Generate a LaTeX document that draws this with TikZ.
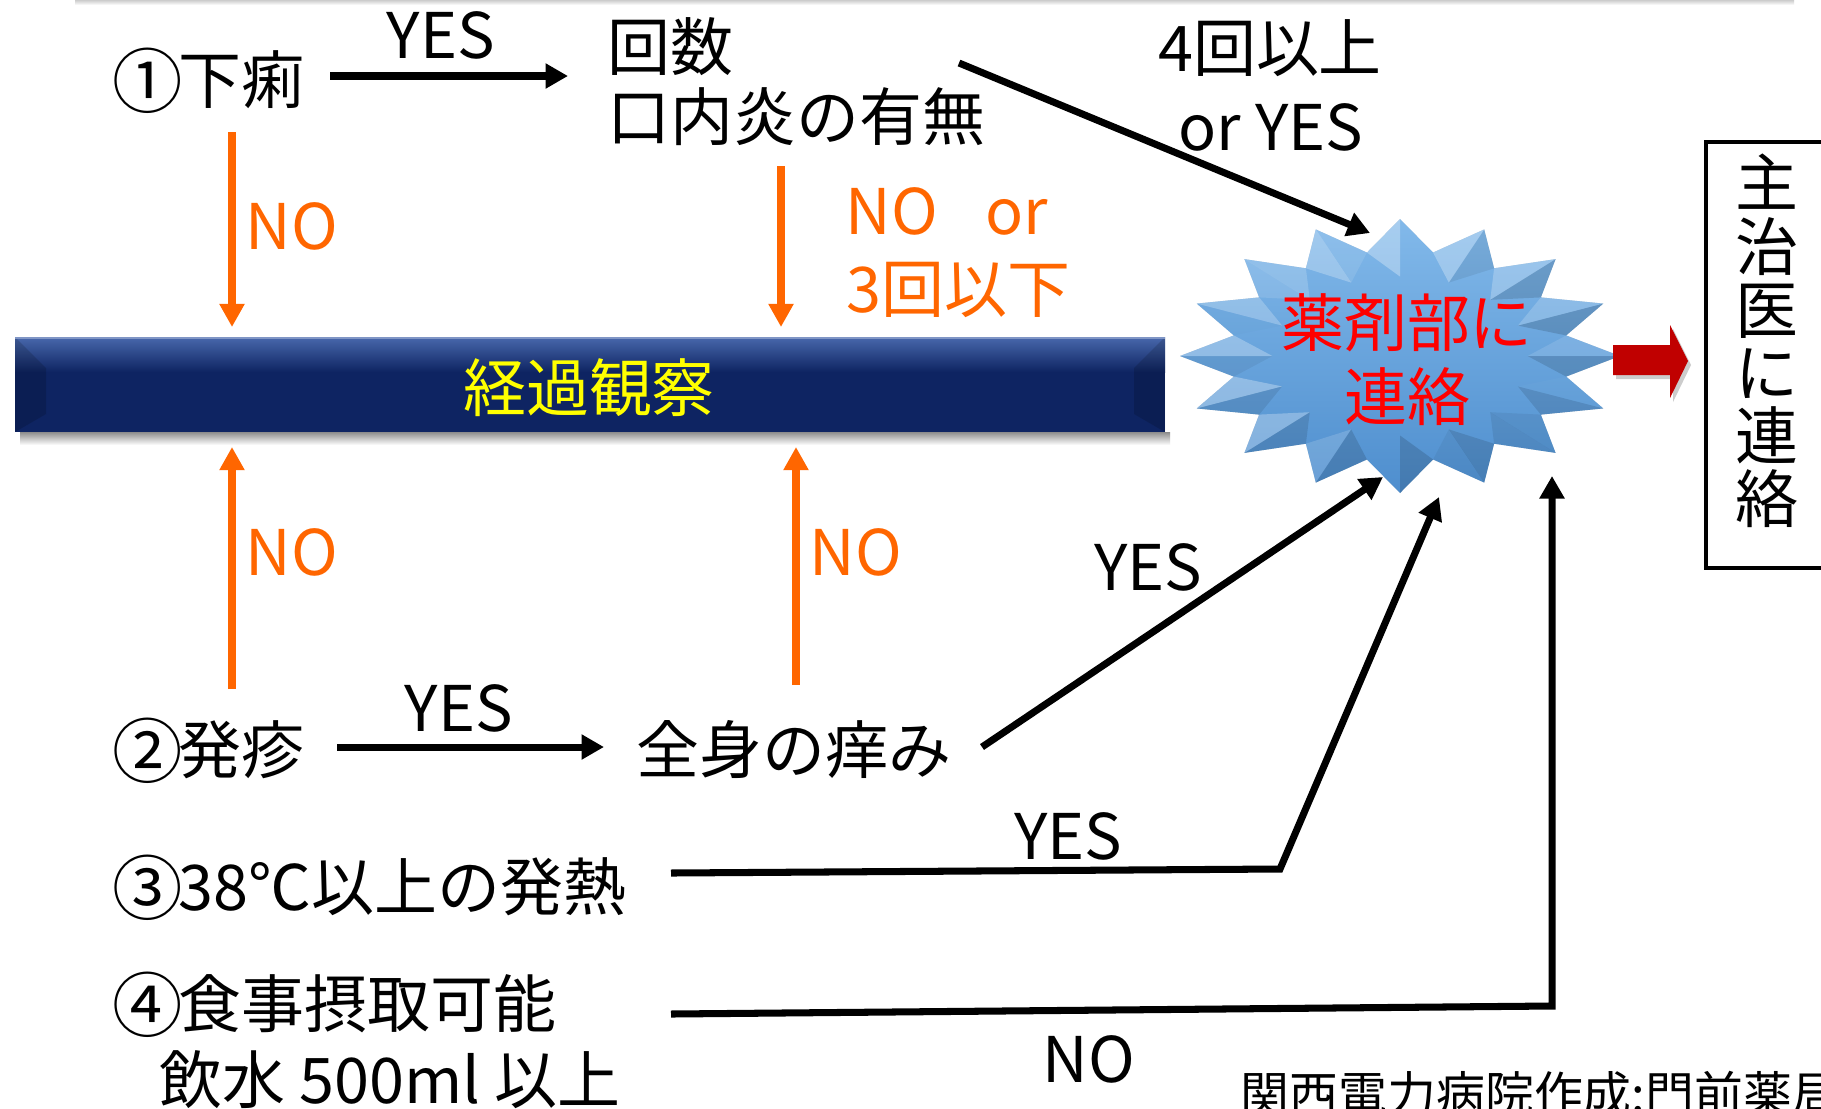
\documentclass[tikz,border=0pt]{standalone}
\usepackage{fontspec}
\setmainfont{Noto Sans CJK JP}
\usetikzlibrary{arrows.meta}
\definecolor{orng}{RGB}{255,102,0}
\definecolor{navy}{RGB}{14,36,98}
\definecolor{navylt}{RGB}{72,104,172}
\definecolor{starlt}{RGB}{130,185,234}
\definecolor{stardk}{RGB}{78,142,206}
\definecolor{dred}{RGB}{192,0,0}
\definecolor{ylw}{RGB}{255,255,0}
\newcommand\circnum[1]{\makebox[1em][c]{\raisebox{-0.06em}{\fontsize{20}{20}\selectfont #1}}}
\begin{document}
\begin{tikzpicture}[x=0.01cm,y=-0.01cm,
  txt/.style={inner sep=0pt, text height=15.75pt, text depth=2.15pt, font=\fontsize{17.9}{21.5}\selectfont},
  otxt/.style={txt, text=orng},
  blk/.style={line width=2pt, -{Triangle[length=6.4pt,width=6.8pt]}},
  org/.style={line width=2pt, draw=orng, -{Triangle[length=6.6pt,width=6.8pt]}},
]
\useasboundingbox (0,0) rectangle (1821,1108);
\fill[white] (0,0) rectangle (1821,1108);
% faint top shadow
\shade[top color=black!20, bottom color=white] (75,0) rectangle (1794,5);

% ---------- observation bar ----------
\shade[top color=black!45, bottom color=white] (20,432) rectangle (1170,445);
\fill[navy] (15,337) rectangle (1165,432);
\shade[top color=navylt, bottom color=navy] (15,337) rectangle (1165,372);
\fill[black, fill opacity=0.15] (15,337) -- (46,368) -- (46,414) -- (15,432) -- cycle;
\fill[black, fill opacity=0.15] (1165,337) -- (1134,368) -- (1134,414) -- (1165,432) -- cycle;
\draw[navylt!70!white, line width=0.7pt] (15,338) -- (1165,338);
\node[txt, text=ylw] (obs) at (589,388) {経過観察};

% ---------- starburst ----------
\foreach \i in {0,...,31}{
  \pgfmathsetmacro\rf{mod(\i,2)==0 ? 1 : 0.77}
  \pgfmathsetmacro\sx{1400+220*\rf*cos(90+\i*11.25)}
  \pgfmathsetmacro\sy{356-137*\rf*sin(90+\i*11.25)}
  \coordinate (S\i) at (\sx,\sy);
}
\fill[black, fill opacity=0.15, shift={(4,6)}] (S0) \foreach \i in {1,...,31}{ -- (S\i)} -- cycle;
\shade[top color=starlt, bottom color=stardk] (S0) \foreach \i in {1,...,31}{ -- (S\i)} -- cycle;
\begin{scope}[shift={(1400,356)}, yscale=-1]
\foreach \k in {0,...,15}{
  \pgfmathsetmacro\a{90+\k*22.5}
  \pgfmathsetmacro\Ox{220*cos(\a)}
  \pgfmathsetmacro\Oy{137*sin(\a)}
  \pgfmathsetmacro\Ax{0.77*220*cos(\a-11.25)}
  \pgfmathsetmacro\Ay{0.77*137*sin(\a-11.25)}
  \pgfmathsetmacro\Bx{0.77*220*cos(\a+11.25)}
  \pgfmathsetmacro\By{0.77*137*sin(\a+11.25)}
  \pgfmathsetmacro\Rx{0.58*220*cos(\a)}
  \pgfmathsetmacro\Ry{0.58*137*sin(\a)}
  \pgfmathsetmacro\ba{(-(\Oy-\Ay)-(\Ox-\Ax))/(1.4142*veclen(\Ox-\Ax,\Oy-\Ay))}
  \pgfmathsetmacro\bb{(-(\By-\Oy)-(\Bx-\Ox))/(1.4142*veclen(\Bx-\Ox,\By-\Oy))}
  \pgfmathsetmacro\wa{max(\ba,0)*0.3}
  \pgfmathsetmacro\ka{max(-\ba,0)*0.14}
  \pgfmathsetmacro\wb{max(\bb,0)*0.3}
  \pgfmathsetmacro\kb{max(-\bb,0)*0.14}
  \fill[white, fill opacity=\wa] (\Ax,\Ay) -- (\Ox,\Oy) -- (\Rx,\Ry) -- cycle;
  \fill[black, fill opacity=\ka] (\Ax,\Ay) -- (\Ox,\Oy) -- (\Rx,\Ry) -- cycle;
  \fill[white, fill opacity=\wb] (\Ox,\Oy) -- (\Bx,\By) -- (\Rx,\Ry) -- cycle;
  \fill[black, fill opacity=\kb] (\Ox,\Oy) -- (\Bx,\By) -- (\Rx,\Ry) -- cycle;
}
\end{scope}
\node[inner sep=0pt, align=center, text=red, font=\fontsize{17.9}{21.05}\selectfont] (star) at (1407,360) {薬剤部に\\連絡};

% ---------- red block arrow ----------
\fill[black, fill opacity=0.2, shift={(3,4)}] (1613,345) -- (1670,345) -- (1670,325) -- (1688,361) -- (1670,398) -- (1670,375) -- (1613,375) -- cycle;
\fill[dred] (1613,345) -- (1670,345) -- (1670,325) -- (1688,361) -- (1670,398) -- (1670,375) -- (1613,375) -- cycle;

% ---------- right box ----------
\draw[line width=1.15pt] (1845,142) -- (1706,142) -- (1706,568) -- (1845,568);
\node[inner sep=0pt, align=center, font=\fontsize{17.9}{17.95}\selectfont] (doc) at (1767,341) {主\\治\\医\\に\\連\\絡};

% ---------- text nodes ----------
\node[txt, anchor=west] (d1) at (115,80) {\circnum{①}下痢};
\node[txt] (yes1) at (441,35) {YES};
\node[txt, anchor=west] (cnt1) at (607,47) {回数};
\node[txt, anchor=west] (cnt2) at (607,117) {口内炎の有無};
\node[txt] (ge4) at (1270,48) {4回以上};
\node[txt] (oryes) at (1271,127) {or YES};
\node[otxt, anchor=west] (no1) at (245,226) {NO};
\node[otxt, anchor=west] (no2) at (845,211) {NO\hspace{0.75em}or};
\node[otxt, anchor=west] (le3) at (846,289) {3回以下};
\node[otxt, anchor=west] (no3) at (245,552) {NO};
\node[otxt, anchor=west] (no4) at (809,552) {NO};
\node[txt, anchor=west] (d2) at (115,750) {\circnum{②}発疹};
\node[txt] (yes2) at (459,708) {YES};
\node[txt, anchor=west] (itch) at (636,750) {全身の痒み};
\node[txt] (yes3) at (1148,567) {YES};
\node[txt, anchor=west] (d3) at (115,887) {\circnum{③}38℃以上の発熱};
\node[txt] (yes4) at (1068,836) {YES};
\node[txt, anchor=west] (d4) at (115,1004) {\circnum{④}食事摂取可能};
\node[txt, anchor=west] (d4b) at (159,1080) {飲水 500ml 以上};
\node[txt] (no5) at (1089,1059) {NO};
\node[inner sep=0pt, anchor=west, text height=12.2pt, text depth=1.7pt, font=\fontsize{13.9}{15}\selectfont] (credit) at (1240,1094) {関西電力病院作成:門前薬局};

% ---------- connector end points ----------
\coordinate (a1s) at (330,76);   \coordinate (a1e) at (568,76);
\coordinate (a2s) at (959,63);   \coordinate (a2e) at (1370,233);
\coordinate (o1s) at (232,132);  \coordinate (o1e) at (232,327);
\coordinate (o2s) at (781,166);  \coordinate (o2e) at (781,327);
\coordinate (o3s) at (232,689);  \coordinate (o3e) at (232,447);
\coordinate (o4s) at (796,685);  \coordinate (o4e) at (796,447);
\coordinate (b1s) at (337,747);  \coordinate (b1e) at (604,747);
\coordinate (b2s) at (982,747);  \coordinate (b2e) at (1383,477);
\coordinate (c3s) at (671,873);  \coordinate (c3m) at (1280,869); \coordinate (c3e) at (1439,497);
\coordinate (c4s) at (671,1014); \coordinate (c4m) at (1552,1006); \coordinate (c4e) at (1552,476);

% ---------- connectors ----------
\draw[blk] (a1s) -- (a1e);
\draw[blk] (a2s) -- (a2e);
\draw[org] (o1s) -- (o1e);
\draw[org] (o2s) -- (o2e);
\draw[org] (o3s) -- (o3e);
\draw[org] (o4s) -- (o4e);
\draw[blk] (b1s) -- (b1e);
\draw[blk] (b2s) -- (b2e);
\draw[blk, line join=miter] (c3s) -- (c3m) -- (c3e);
\draw[blk, line join=miter] (c4s) -- (c4m) -- (c4e);
\end{tikzpicture}
\end{document}
